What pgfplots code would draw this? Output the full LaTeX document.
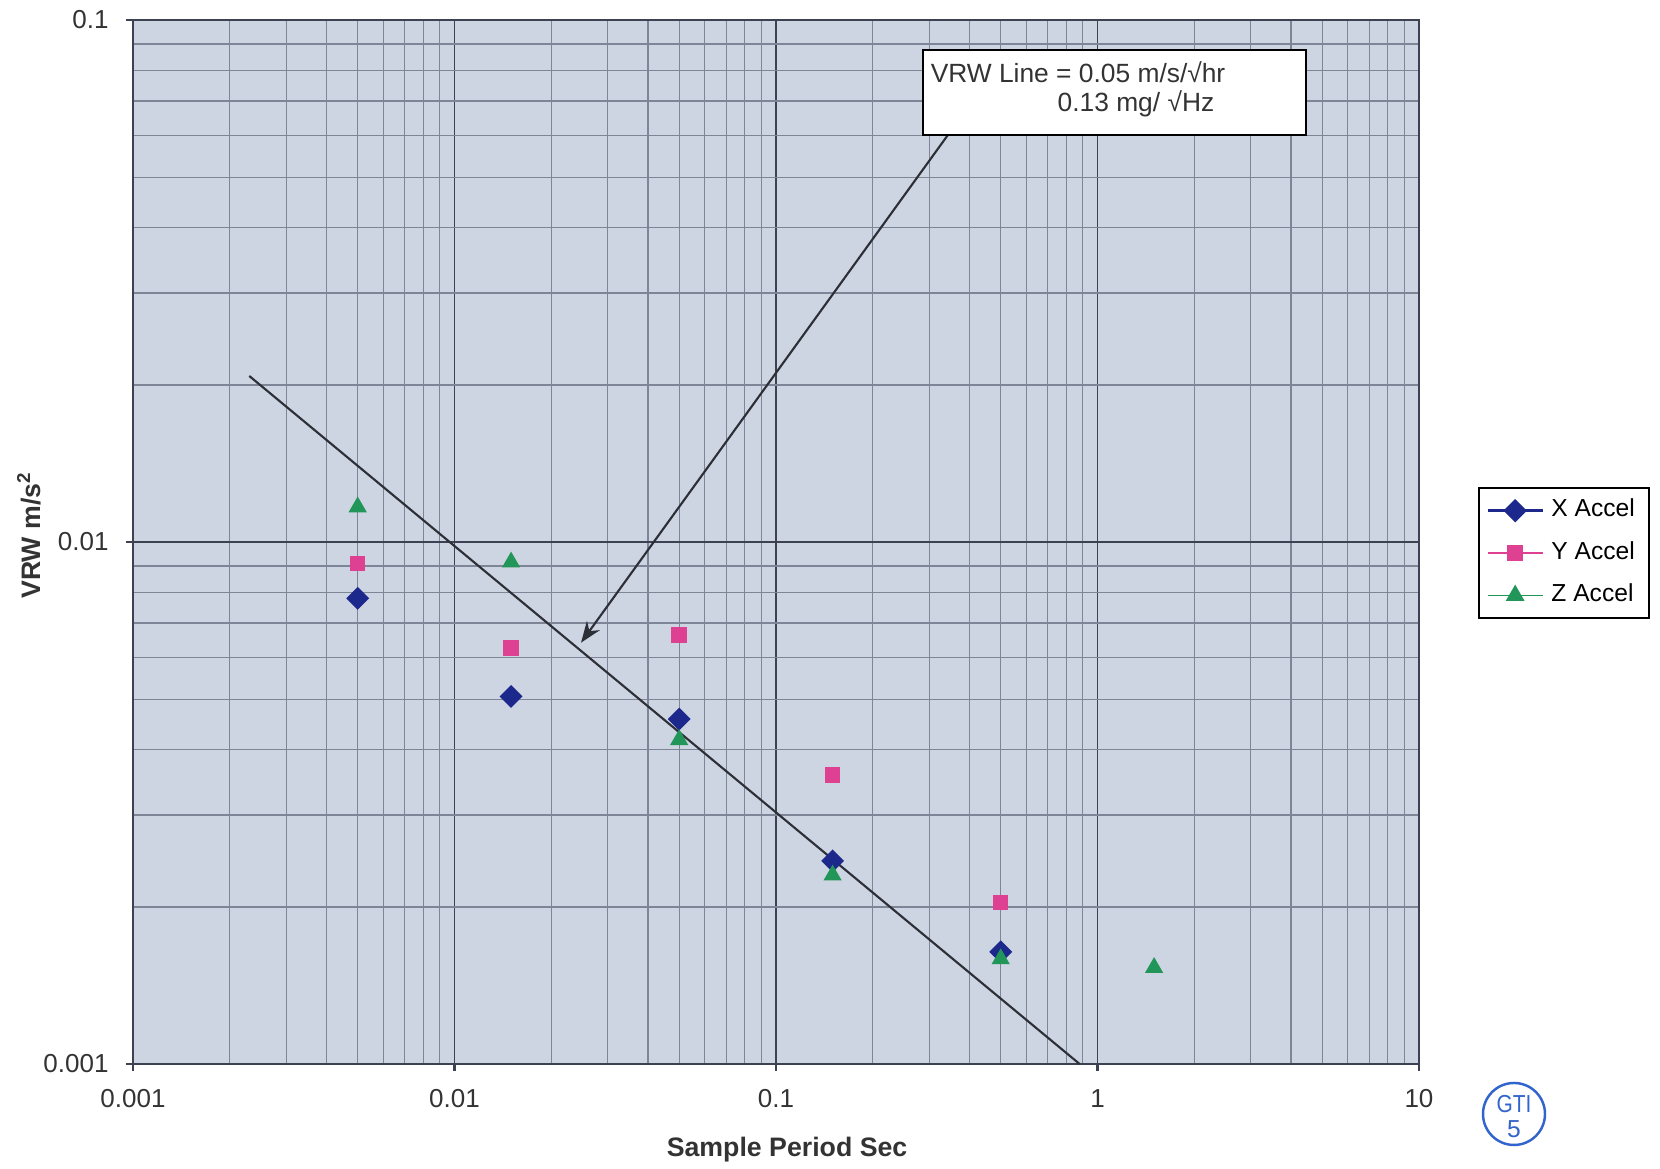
\documentclass[border=0pt]{standalone}
\usepackage{fontspec}
\setmainfont{Liberation Sans}
\usepackage{pgfplots}
\usepackage{pgfplotstable}
\pgfplotsset{compat=1.18}
\usetikzlibrary{arrows.meta}

\definecolor{bgc}{RGB}{205,212,226}
\definecolor{majc}{RGB}{60,66,82}
\definecolor{minc}{RGB}{125,133,150}
\definecolor{linec}{RGB}{45,47,55}
\definecolor{xcol}{RGB}{28,40,140}
\definecolor{ycol}{RGB}{222,64,146}
\definecolor{zcol}{RGB}{34,150,88}
\definecolor{stamp}{RGB}{50,100,205}

% legend: a line with the mark in the middle
\pgfplotsset{
  linemark/.style 2 args={
    legend image code/.code={
      \draw[#1, line width=#2] (0cm,0cm) -- (0.55cm,0cm);
      \draw[mark repeat=2, mark phase=2, ##1] plot coordinates {(0cm,0cm) (0.275cm,0cm) (0.55cm,0cm)};
    }
  }
}

% sample period (s) vs VRW (m/s^2)
\pgfplotstableread{
x y
0.005 0.0078
0.015 0.00506
0.05 0.00458
0.15 0.00245
0.5 0.00164
}\xacc
\pgfplotstableread{
x y
0.005 0.0091
0.015 0.00627
0.05 0.00663
0.15 0.00358
0.5 0.00204
}\yacc
\pgfplotstableread{
x y
0.005 0.01167
0.015 0.00915
0.05 0.00418
0.15 0.0023
0.5 0.00159
1.5 0.00153
}\zacc

\begin{document}
\begin{tikzpicture}
\begin{axis}[
  scale only axis,
  width=12.86cm, height=10.44cm,
  xmode=log, ymode=log,
  xmin=0.001, xmax=10, ymin=0.001, ymax=0.1,
  xtick={0.001,0.01,0.1,1,10},
  xticklabels={0.001,0.01,0.1,1,10},
  ytick={0.001,0.01,0.1},
  yticklabels={0.001,0.01,0.1},
  minor xtick={0.002,0.003,0.004,0.005,0.006,0.007,0.008,0.009,
               0.02,0.03,0.04,0.05,0.06,0.07,0.08,0.09,
               0.2,0.3,0.4,0.5,0.6,0.7,0.8,0.9,
               2,3,4,5,6,7,8,9},
  minor ytick={0.002,0.003,0.004,0.005,0.006,0.007,0.008,0.009,
               0.02,0.03,0.04,0.05,0.06,0.07,0.08,0.09},
  grid=both,
  major grid style={color=majc, line width=0.45pt},
  minor grid style={color=minc, line width=0.35pt},
  axis background/.style={fill=bgc},
  axis line style={color=majc, line width=0.7pt},
  tick align=outside,
  xtick pos=bottom, ytick pos=left,
  major tick length=2pt,
  minor tick length=0pt,
  tick style={color=majc, line width=0.6pt},
  ticklabel style={font=\fontsize{7.4}{8}\selectfont, color=black!80},
  yticklabel style={xshift=-0.05cm},
  xticklabel style={yshift=-0.06cm},
  xlabel={\textbf{Sample Period Sec}},
  ylabel={\textbf{VRW m/s\textsuperscript{2}}},
  label style={font=\fontsize{7.6}{9}\selectfont, color=black!80},
  xlabel style={at={(axis description cs:0.5086,-0.0824)}, anchor=center},
  ylabel style={at={(axis description cs:-0.0809,0.5067)}, anchor=center},
  legend style={at={(1.0459,0.5527)}, anchor=north west, draw=black,
    line width=0.5pt, fill=white, font=\fontsize{7}{8}\selectfont,
    row sep=1.5pt, inner xsep=2pt, inner ysep=1.2pt},
  legend cell align=left,
]
\addplot[only marks, color=xcol, mark=square*, mark size=2.1pt,
  mark options={rotate=45}, linemark={xcol}{1pt}]
  table[x=x, y=y] {\xacc};
\addlegendentry{X Accel}
\addplot[only marks, color=ycol, mark=square*, mark size=2.0pt,
  linemark={ycol}{0.5pt}]
  table[x=x, y=y] {\yacc};
\addlegendentry{Y Accel}
\addplot[only marks, color=zcol, mark=triangle*, mark size=2.6pt,
  linemark={zcol}{0.5pt}]
  table[x=x, y=y] {\zacc};
\addlegendentry{Z Accel}

% VRW reference line
\addplot[forget plot, no marks, color=linec, line width=0.6pt]
  coordinates {(0.0023,0.0208) (0.88,0.001)};

% annotation
\draw[linec, line width=0.6pt, -{Stealth[length=6pt, width=4.5pt]}]
  (rel axis cs:0.6334,0.8894) -- (rel axis cs:0.3484,0.4036);
\draw[fill=white, draw=black, line width=0.5pt]
  (rel axis cs:0.6143,0.8898) rectangle (rel axis cs:0.9121,0.9713);
\node[anchor=base west, inner sep=0pt, font=\fontsize{7.5}{9}\selectfont, color=black!80]
  at (rel axis cs:0.6198,0.9406) {VRW Line = 0.05 m/s/√hr};
\node[anchor=base west, inner sep=0pt, font=\fontsize{7.5}{9}\selectfont, color=black!80]
  at (rel axis cs:0.7185,0.9119) {0.13 mg/ √Hz};

\coordinate (sw) at (rel axis cs:0,0);
\coordinate (ne) at (rel axis cs:1,1);
\coordinate (se) at (rel axis cs:1,0);
\end{axis}

% stamp
\draw[stamp, line width=0.7pt] ([shift={(0.95cm,-0.50cm)}]se) circle (0.31cm);
\node[stamp, font=\fontsize{7}{7}\selectfont, inner sep=0pt, xscale=0.85]
  at ([shift={(0.95cm,-0.40cm)}]se) {GTI};
\node[stamp, font=\fontsize{7}{7}\selectfont, inner sep=0pt]
  at ([shift={(0.95cm,-0.65cm)}]se) {5};

\pgfresetboundingbox
\path ([shift={(-1.33cm,-1.05cm)}]sw) rectangle ([shift={(2.41cm,0.20cm)}]ne);
\end{tikzpicture}
\end{document}
